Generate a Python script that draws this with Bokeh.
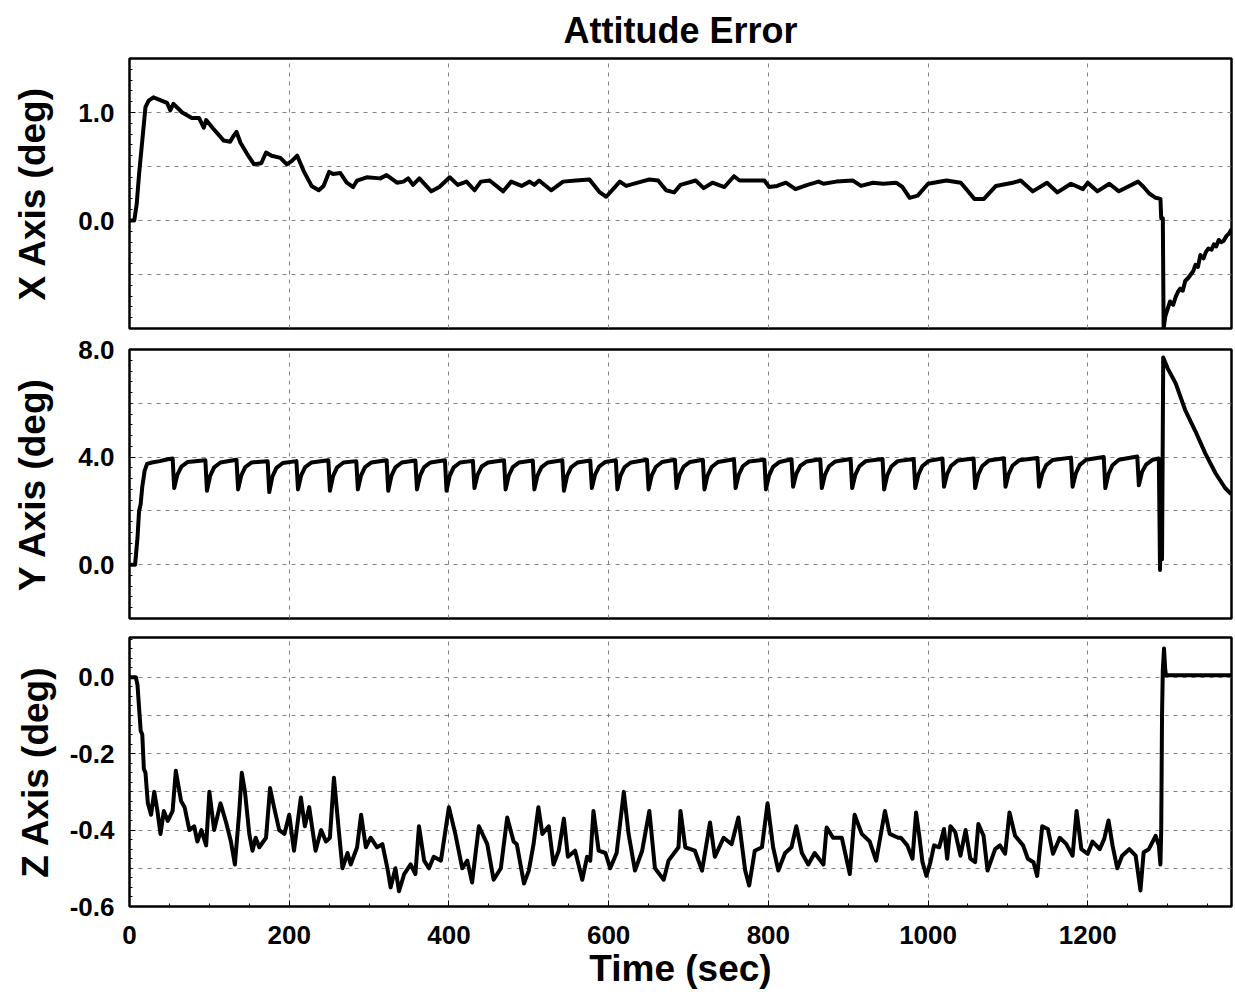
import numpy as np
from bokeh.plotting import figure
from bokeh.layouts import column
from bokeh.models import FixedTicker, PrintfTickFormatter, Range1d
from bokeh.embed import file_html
from bokeh.resources import INLINE

# ---------------- data ----------------
TITLE = "Attitude Error"
X_LABEL = "Time (sec)"
PANEL_LABELS = ["X Axis (deg)", "Y Axis (deg)", "Z Axis (deg)"]

TIME_TICKS = [0, 200, 400, 600, 800, 1000, 1200]
X_TICKS = [0.0, 1.0]
Y_TICKS = [0.0, 4.0, 8.0]
Z_TICKS = [0.0, -0.2, -0.4, -0.6]

# X axis attitude error (deg)
x_t = [0, 6, 9, 12, 16, 20, 24, 30, 37, 47, 51, 55, 66, 78, 87, 93, 96, 105, 118, 126,
       130, 134, 139, 147, 156, 165, 171, 178, 189, 197, 203, 210, 218, 228, 237, 243, 250,
       255, 264, 272, 280, 285, 297, 314, 322, 335, 343, 349, 355, 363, 378, 388, 401, 411,
       422, 432, 440, 451, 468, 478, 491, 501, 507, 513, 528, 543, 559, 576, 589, 597, 614,
       622, 641, 651, 662, 672, 682, 690, 709, 719, 730, 745, 757, 764, 781, 795, 801, 811,
       822, 834, 849, 863, 869, 885, 906, 916, 931, 944, 960, 968, 977, 987, 1000, 1023,
       1041, 1049, 1058, 1070, 1085, 1106, 1116, 1131, 1149, 1162, 1179, 1194, 1200, 1212,
       1227, 1239, 1263, 1270, 1277, 1285, 1291, 1292, 1294, 1295, 1297, 1300, 1303, 1307,
       1310, 1313, 1316, 1319, 1322, 1326, 1329, 1332, 1335, 1338, 1341, 1345, 1348, 1351,
       1355, 1358, 1361, 1364, 1367, 1370, 1374, 1377, 1380]
x_v = [0.0, 0.0, 0.15, 0.43, 0.74, 1.05, 1.11, 1.14, 1.12, 1.09, 1.02, 1.08, 1.00, 0.95,
       0.95, 0.86, 0.93, 0.85, 0.74, 0.73, 0.78, 0.82, 0.72, 0.62, 0.52, 0.53, 0.63, 0.60,
       0.58, 0.52, 0.55, 0.60, 0.46, 0.32, 0.28, 0.32, 0.45, 0.43, 0.44, 0.35, 0.31, 0.37,
       0.40, 0.39, 0.42, 0.35, 0.36, 0.39, 0.33, 0.39, 0.27, 0.31, 0.40, 0.33, 0.36, 0.28,
       0.36, 0.37, 0.27, 0.36, 0.32, 0.36, 0.33, 0.37, 0.28, 0.36, 0.37, 0.38, 0.26, 0.22,
       0.36, 0.32, 0.36, 0.38, 0.37, 0.28, 0.26, 0.33, 0.37, 0.30, 0.35, 0.31, 0.41, 0.37,
       0.37, 0.37, 0.31, 0.32, 0.35, 0.29, 0.33, 0.36, 0.34, 0.36, 0.37, 0.32, 0.35, 0.34,
       0.35, 0.31, 0.21, 0.23, 0.34, 0.37, 0.35, 0.28, 0.20, 0.20, 0.32, 0.35, 0.37, 0.27,
       0.35, 0.26, 0.34, 0.29, 0.35, 0.27, 0.34, 0.27, 0.36, 0.31, 0.25, 0.21, 0.20, 0.02,
       0.02, -1.00, -0.89, -0.82, -0.75, -0.78, -0.71, -0.66, -0.63, -0.65, -0.56, -0.53,
       -0.50, -0.47, -0.41, -0.43, -0.32, -0.35, -0.29, -0.26, -0.27, -0.22, -0.24, -0.18,
       -0.20, -0.19, -0.14, -0.12, -0.08]

# Y axis attitude error (deg)
y_t = [0, 7, 10, 12, 14, 16, 19, 22, 28, 38, 48,
       54, 56, 60, 65, 73, 95, 97, 101, 106, 114, 134, 136, 140, 145, 153,
       173, 175, 179, 184, 192, 209, 211, 215, 220, 228, 249, 251, 255, 260, 268,
       284, 286, 290, 295, 303, 322, 324, 328, 333, 341, 358, 360, 364, 369, 377,
       395, 397, 401, 406, 414, 430, 432, 436, 441, 449, 469, 471, 475, 480, 488,
       505, 507, 511, 516, 524, 542, 544, 548, 553, 561, 577, 579, 583, 588, 596,
       609, 611, 615, 620, 628, 648, 650, 654, 659, 667, 683, 685, 689, 694, 702,
       718, 720, 724, 729, 737, 757, 759, 763, 768, 776, 795, 797, 801, 806, 814,
       829, 831, 835, 840, 848, 865, 867, 871, 876, 884, 903, 905, 909, 914, 922,
       943, 945, 949, 954, 962, 982, 984, 988, 993, 1001, 1018, 1020, 1024, 1029, 1037,
       1057, 1059, 1063, 1068, 1076, 1095, 1097, 1101, 1106, 1114, 1137, 1139, 1143, 1148, 1156,
       1179, 1181, 1185, 1190, 1198, 1220, 1222, 1226, 1231, 1239, 1262, 1264, 1268, 1273, 1281,
       1289, 1290.5, 1292, 1293, 1294.5, 1300, 1310, 1322, 1335, 1347, 1360, 1372, 1380]
y_v = [0.0, 0.0, 1.0, 2.0, 2.25, 2.9, 3.5, 3.75, 3.8, 3.85, 3.92,
       3.95, 2.85, 3.35, 3.65, 3.82, 3.88, 2.75, 3.30, 3.62, 3.80, 3.90, 2.80, 3.32, 3.63, 3.80,
       3.85, 2.70, 3.28, 3.60, 3.78, 3.85, 2.80, 3.32, 3.63, 3.80, 3.88, 2.75, 3.30, 3.62, 3.80,
       3.85, 2.80, 3.32, 3.63, 3.80, 3.88, 2.75, 3.30, 3.62, 3.80, 3.87, 2.80, 3.32, 3.63, 3.80,
       3.88, 2.75, 3.30, 3.62, 3.80, 3.86, 2.85, 3.35, 3.65, 3.80, 3.88, 2.80, 3.32, 3.63, 3.80,
       3.87, 2.80, 3.32, 3.63, 3.80, 3.88, 2.75, 3.30, 3.62, 3.80, 3.87, 2.85, 3.35, 3.65, 3.82,
       3.88, 2.80, 3.32, 3.63, 3.80, 3.90, 2.80, 3.32, 3.63, 3.82, 3.90, 2.85, 3.35, 3.65, 3.82,
       3.90, 2.80, 3.32, 3.63, 3.82, 3.92, 2.85, 3.35, 3.66, 3.84, 3.90, 2.80, 3.32, 3.64, 3.82,
       3.92, 2.90, 3.38, 3.67, 3.84, 3.92, 2.85, 3.35, 3.66, 3.84, 3.93, 2.85, 3.35, 3.66, 3.85,
       3.93, 2.80, 3.33, 3.65, 3.85, 3.93, 2.85, 3.36, 3.67, 3.86, 3.95, 2.90, 3.38, 3.68, 3.87,
       3.95, 2.85, 3.36, 3.67, 3.87, 3.96, 2.90, 3.38, 3.69, 3.88, 3.97, 2.90, 3.38, 3.70, 3.89,
       3.98, 2.90, 3.39, 3.71, 3.90, 4.00, 2.85, 3.37, 3.70, 3.90, 4.02, 2.95, 3.45, 3.72, 3.90,
       3.95, -0.2, 3.5, 0.2, 7.7, 7.3, 6.75, 5.75, 4.95, 4.15, 3.40, 2.85, 2.62]

# Z axis attitude error (deg)
z_t = [0, 8, 10, 12, 14, 16, 18, 20, 23, 27, 29, 31, 35, 38.8, 43, 48, 54, 58, 64.6, 69,
       75, 81, 85, 90, 96, 100, 106, 114, 121, 127, 132, 137.5, 140.6, 144.6, 150, 154, 158,
       162.5, 171, 176, 181, 187.5, 194, 200, 206, 214.6, 219.6, 225, 233, 240, 246, 251,
       256, 262.5, 266.7, 273, 277, 285, 290, 296, 302, 310, 316.7, 323, 327, 333, 337.5,
       344, 352, 358, 362.5, 369, 375, 381, 390, 400, 408, 416.7, 423, 429, 437.5, 448, 456,
       465, 473, 481, 485, 494, 500, 506, 512, 517, 525, 531, 537.5, 544, 549, 558, 567, 573,
       577, 581, 587.5, 596, 602, 610, 619, 625, 633, 642, 651, 658, 669, 675, 687.5, 690,
       696, 708, 717, 727, 733, 744, 754, 762.5, 771, 776, 783, 792, 799, 806, 812.5, 821,
       829, 835, 842, 850, 858, 869, 873, 881, 892, 902, 908, 917, 927, 935, 946, 952, 962.5,
       966, 974, 980.5, 985, 989, 993, 998, 1003, 1007.5, 1014, 1020, 1024, 1028, 1034,
       1040.6, 1047, 1053, 1059, 1063, 1069.5, 1074.5, 1084, 1090, 1096.5, 1102, 1109, 1119,
       1125, 1132, 1136.6, 1143, 1150, 1156.5, 1165, 1173, 1181, 1186, 1192, 1200, 1206, 1215,
       1220.6, 1226, 1231, 1237, 1243, 1252, 1260, 1266, 1270, 1276.5, 1285, 1289, 1291,
       1292, 1293, 1294, 1295.5, 1297, 1298, 1380]
z_v = [0.0, 0.0, -0.02, -0.08, -0.14, -0.15, -0.24, -0.25, -0.33, -0.36, -0.33, -0.30,
       -0.35, -0.41, -0.35, -0.376, -0.35, -0.245, -0.324, -0.34, -0.40, -0.39, -0.43, -0.40,
       -0.44, -0.30, -0.40, -0.33, -0.38, -0.43, -0.49, -0.35, -0.25, -0.30, -0.41, -0.454,
       -0.42, -0.445, -0.42, -0.29, -0.34, -0.40, -0.41, -0.36, -0.454, -0.315, -0.39, -0.34,
       -0.454, -0.40, -0.43, -0.42, -0.263, -0.41, -0.50, -0.46, -0.49, -0.445, -0.36, -0.445,
       -0.42, -0.445, -0.437, -0.50, -0.55, -0.50, -0.56, -0.515, -0.49, -0.515, -0.39, -0.48,
       -0.50, -0.47, -0.48, -0.34, -0.41, -0.50, -0.48, -0.537, -0.39, -0.437, -0.53, -0.50,
       -0.367, -0.43, -0.437, -0.54, -0.506, -0.437, -0.34, -0.41, -0.39, -0.49, -0.454,
       -0.37, -0.47, -0.454, -0.53, -0.47, -0.48, -0.35, -0.454, -0.46, -0.50, -0.46, -0.30,
       -0.41, -0.506, -0.454, -0.35, -0.50, -0.53, -0.48, -0.445, -0.35, -0.445, -0.454,
       -0.506, -0.38, -0.47, -0.42, -0.437, -0.367, -0.506, -0.545, -0.454, -0.445, -0.33,
       -0.445, -0.506, -0.46, -0.445, -0.39, -0.46, -0.49, -0.46, -0.49, -0.393, -0.42,
       -0.42, -0.515, -0.36, -0.41, -0.43, -0.48, -0.35, -0.41, -0.42, -0.42, -0.44, -0.475,
       -0.354, -0.415, -0.484, -0.52, -0.484, -0.44, -0.445, -0.397, -0.475, -0.39, -0.405,
       -0.467, -0.40, -0.475, -0.484, -0.384, -0.415, -0.506, -0.45, -0.44, -0.462, -0.354,
       -0.415, -0.44, -0.475, -0.484, -0.52, -0.39, -0.397, -0.462, -0.42, -0.436, -0.467,
       -0.35, -0.45, -0.462, -0.43, -0.45, -0.423, -0.375, -0.44, -0.50, -0.467, -0.45,
       -0.467, -0.558, -0.458, -0.45, -0.415, -0.44, -0.49, -0.40, -0.1, 0.02, 0.075, 0.02,
       0.005, 0.005]

# ---------------- styling ----------------
FONT = "Liberation Sans"
TICK_SIZE = "26px"
LABEL_SIZE = "37px"
W = 1233
LEFT = 129
RIGHT = 2
LW = 4

x_range = Range1d(0, 1380)


def panel(height, y_range, yticks, ygrid, yminor, label, top, bottom, label_standoff,
          show_x=False, title=None):
    kw = dict(width=W, height=height, x_range=x_range, y_range=y_range,
              output_backend="svg", toolbar_location=None,
              min_border_left=LEFT, min_border_right=RIGHT,
              min_border_top=top, min_border_bottom=bottom)
    if title:
        kw["title"] = title
    p = figure(**kw)
    p.background_fill_color = "white"
    p.border_fill_color = "white"
    p.outline_line_color = "black"
    p.outline_line_width = 2.5

    # y axis
    ax = p.yaxis[0]
    ax.ticker = FixedTicker(ticks=yticks, minor_ticks=yminor)
    ax.formatter = PrintfTickFormatter(format="%.1f")
    ax.axis_label = label
    ax.axis_label_text_font = FONT
    ax.axis_label_text_font_style = "bold"
    ax.axis_label_text_font_size = LABEL_SIZE
    ax.axis_label_text_color = "black"
    ax.axis_label_standoff = label_standoff
    ax.major_label_text_font = FONT
    ax.major_label_text_font_style = "bold"
    ax.major_label_text_font_size = TICK_SIZE
    ax.major_label_text_color = "black"
    ax.major_label_standoff = 15
    ax.axis_line_color = None
    ax.major_tick_in = 6
    ax.major_tick_out = 0
    ax.minor_tick_in = 3
    ax.minor_tick_out = 0
    ax.major_tick_line_color = "black"
    ax.minor_tick_line_color = "black"

    # x axis
    xa = p.xaxis[0]
    xa.ticker = FixedTicker(ticks=TIME_TICKS, minor_ticks=list(np.arange(0, 1381, 50)))
    xa.axis_line_color = None
    xa.major_tick_in = 6
    xa.major_tick_out = 0
    xa.minor_tick_in = 3
    xa.minor_tick_out = 0
    xa.major_tick_line_color = "black"
    xa.minor_tick_line_color = "black"
    if show_x:
        xa.axis_label = X_LABEL
        xa.axis_label_text_font = FONT
        xa.axis_label_text_font_style = "bold"
        xa.axis_label_text_font_size = LABEL_SIZE
        xa.axis_label_text_color = "black"
        xa.axis_label_standoff = 1
        xa.major_label_text_font = FONT
        xa.major_label_text_font_style = "bold"
        xa.major_label_text_font_size = TICK_SIZE
        xa.major_label_text_color = "black"
        xa.major_label_standoff = 19
    else:
        xa.visible = False

    # grids
    for g in p.xgrid:
        g.ticker = FixedTicker(ticks=TIME_TICKS[1:])
    for g in p.ygrid:
        g.ticker = FixedTicker(ticks=ygrid)
    for g in list(p.xgrid) + list(p.ygrid):
        g.grid_line_color = "#777777"
        g.grid_line_dash = "4 5"
        g.grid_line_width = 1
        g.grid_line_alpha = 0.9
    return p


p1 = panel(335, Range1d(-1.0, 1.5), X_TICKS, [-0.5, 0.0, 0.5, 1.0],
           list(np.round(np.arange(-1.0, 1.51, 0.1), 2)), PANEL_LABELS[0],
           top=57, bottom=7, label_standoff=22, title=TITLE)
p1.title.text_font = FONT
p1.title.text_font_style = "bold"
p1.title.text_font_size = "36px"
p1.title.text_color = "black"
p1.title.align = "center"
p1.title.standoff = 15
p1.line(x_t, x_v, line_color="black", line_width=LW, line_join="round")

p2 = panel(292, Range1d(-2.0, 8.0), Y_TICKS, [0.0, 2.0, 4.0, 6.0],
           list(np.round(np.arange(-2.0, 8.01, 0.4), 2)), PANEL_LABELS[1],
           top=14, bottom=9, label_standoff=22)
p2.line(y_t, y_v, line_color="black", line_width=LW, line_join="round")

p3 = panel(364, Range1d(-0.6, 0.104), Z_TICKS, [0.0, -0.1, -0.2, -0.3, -0.4, -0.5],
           list(np.round(np.arange(-0.6, 0.11, 0.025), 3)), PANEL_LABELS[2],
           top=10, bottom=84, label_standoff=11, show_x=True)
p3.line(z_t, z_v, line_color="black", line_width=LW, line_join="round")

layout = column(p1, p2, p3, spacing=0)

with open("out.html", "w") as f:
    f.write(file_html(layout, INLINE, title=TITLE))
